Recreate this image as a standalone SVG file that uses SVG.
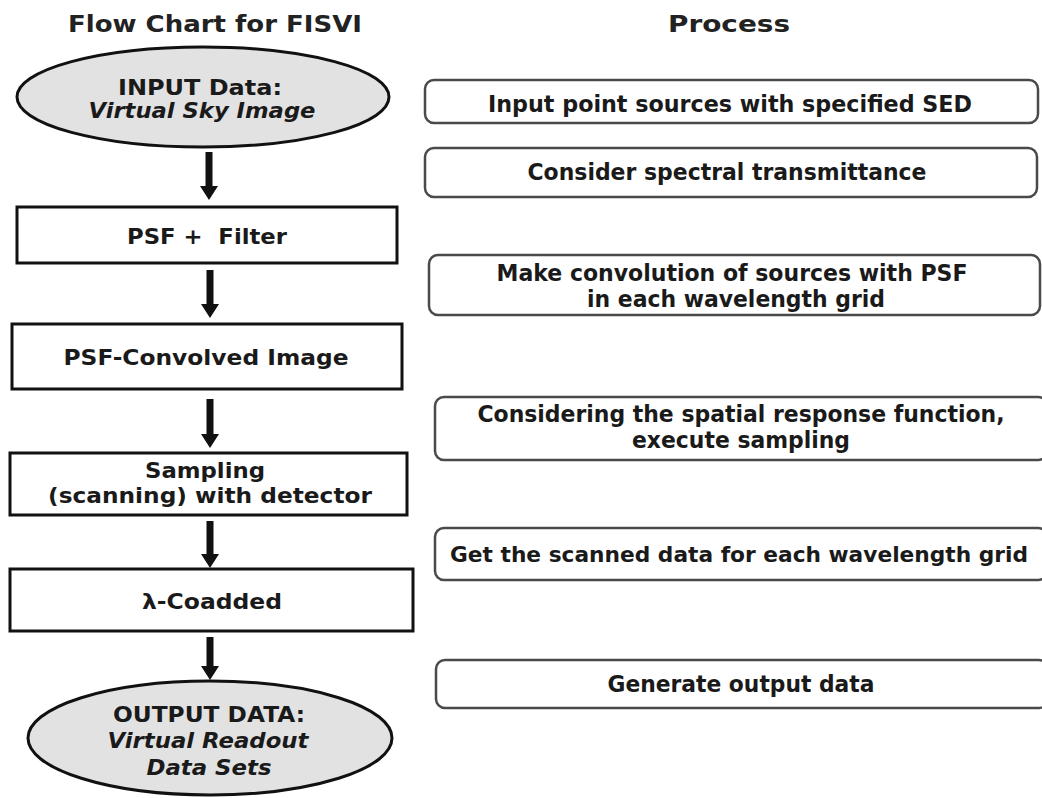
<svg xmlns="http://www.w3.org/2000/svg" width="1042" height="798" viewBox="0 0 1042 798">
<defs>
<style>
text{font-family:"DejaVu Sans","Verdana",sans-serif;font-weight:bold;fill:#1a1a1a;text-anchor:middle;}
.t{font-size:23px;fill:#222;}
.l{font-size:22px;}
.r{font-size:23px;}
.s{font-size:21px;}
.i{font-style:italic;}
.box{fill:#fff;stroke:#111;stroke-width:3;}
.ell{fill:#e2e2e2;stroke:#111;stroke-width:3;}
.proc{fill:#fff;stroke:#4a4a4a;stroke-width:2.5;}
.arr{fill:#111;stroke:none;}
</style>
</defs>
<rect width="1042" height="798" fill="#fff"/>
<g id="headers">
<text class="t" x="215" y="32" textLength="294" lengthAdjust="spacingAndGlyphs">Flow Chart for FISVI</text>
<text class="t" x="729" y="32" textLength="122" lengthAdjust="spacingAndGlyphs">Process</text>
</g>
<g id="connectors">
<path class="arr" d="M205.5,152 H212.5 V186 H218 L209,200 L200,186 H205.5 Z"/>
<path class="arr" d="M206.5,270 H213.5 V304 H219 L210,318 L201,304 H206.5 Z"/>
<path class="arr" d="M206.5,399 H213.5 V434 H219 L210,448 L201,434 H206.5 Z"/>
<path class="arr" d="M206.5,521 H213.5 V554 H219 L210,568 L201,554 H206.5 Z"/>
<path class="arr" d="M206.5,637 H213.5 V666 H219 L210,680 L201,666 H206.5 Z"/>
</g>
<g id="input">
<ellipse class="ell" cx="203" cy="97" rx="186" ry="50"/>
<text class="l" x="200" y="95" textLength="164" lengthAdjust="spacingAndGlyphs">INPUT Data:</text>
<text class="l i" x="202" y="118" textLength="227" lengthAdjust="spacingAndGlyphs">Virtual Sky Image</text>
</g>
<g id="psf-filter">
<rect class="box" x="17" y="207" width="380" height="56"/>
<text class="l" x="207" y="244" textLength="160" lengthAdjust="spacingAndGlyphs" xml:space="preserve">PSF +  Filter</text>
</g>
<g id="psf-convolved">
<rect class="box" x="12" y="324" width="390" height="65"/>
<text class="l" x="206" y="365" textLength="285" lengthAdjust="spacingAndGlyphs">PSF-Convolved Image</text>
</g>
<g id="sampling">
<rect class="box" x="10" y="453" width="397" height="62"/>
<text class="l" x="205" y="478" textLength="120" lengthAdjust="spacingAndGlyphs">Sampling</text>
<text class="l" x="210" y="503" textLength="324" lengthAdjust="spacingAndGlyphs">(scanning) with detector</text>
</g>
<g id="coadded">
<rect class="box" x="10" y="569" width="403" height="62"/>
<text class="l" x="212" y="609" textLength="140" lengthAdjust="spacingAndGlyphs">λ-Coadded</text>
</g>
<g id="output">
<ellipse class="ell" cx="210" cy="738" rx="182" ry="57"/>
<text class="l" x="209" y="722" textLength="192" lengthAdjust="spacingAndGlyphs">OUTPUT DATA:</text>
<text class="l i" x="208" y="748" textLength="201" lengthAdjust="spacingAndGlyphs">Virtual Readout</text>
<text class="l i" x="209" y="775" textLength="125" lengthAdjust="spacingAndGlyphs">Data Sets</text>
</g>
<g id="p1">
<rect class="proc" x="425" y="80" width="613" height="43" rx="9"/>
<text class="r" x="730" y="112" textLength="484" lengthAdjust="spacingAndGlyphs">Input point sources with specified SED</text>
</g>
<g id="p2">
<rect class="proc" x="425" y="148" width="612" height="49" rx="9"/>
<text class="r" x="727" y="180" textLength="399" lengthAdjust="spacingAndGlyphs">Consider spectral transmittance</text>
</g>
<g id="p3">
<rect class="proc" x="429" y="255" width="611" height="60" rx="9"/>
<text class="r" x="732" y="281" textLength="471" lengthAdjust="spacingAndGlyphs">Make convolution of sources with PSF</text>
<text class="r" x="736" y="307" textLength="298" lengthAdjust="spacingAndGlyphs">in each wavelength grid</text>
</g>
<g id="p4">
<rect class="proc" x="435" y="397" width="612" height="63" rx="9"/>
<text class="r" x="741" y="422" textLength="527" lengthAdjust="spacingAndGlyphs">Considering the spatial response function,</text>
<text class="r" x="741" y="448" textLength="218" lengthAdjust="spacingAndGlyphs">execute sampling</text>
</g>
<g id="p5">
<rect class="proc" x="435" y="528" width="612" height="52" rx="9"/>
<text class="s" x="739" y="562" textLength="578" lengthAdjust="spacingAndGlyphs">Get the scanned data for each wavelength grid</text>
</g>
<g id="p6">
<rect class="proc" x="436" y="660" width="612" height="48" rx="9"/>
<text class="r" x="741" y="692" textLength="267" lengthAdjust="spacingAndGlyphs">Generate output data</text>
</g>
</svg>
